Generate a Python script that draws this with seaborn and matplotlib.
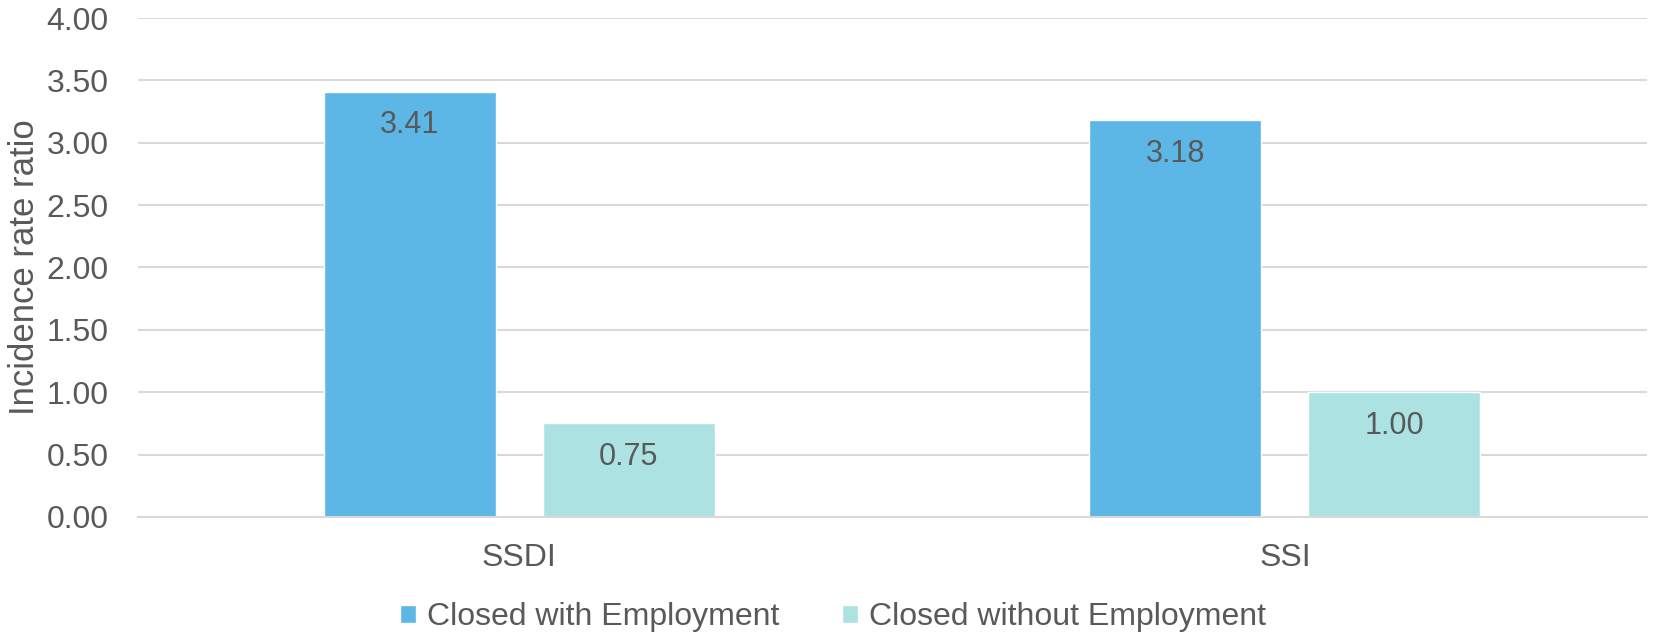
import pandas as pd
import matplotlib
matplotlib.use("Agg")
import matplotlib.pyplot as plt
import seaborn as sns

# data
categories = ["SSDI", "SSI"]
series = ["Closed with Employment", "Closed without Employment"]
with_employment = [3.41, 3.18]
without_employment = [0.75, 1.00]
yticks = [0.0, 0.5, 1.0, 1.5, 2.0, 2.5, 3.0, 3.5, 4.0]
colors = ["#5DB7E6", "#ACE2E1"]

df = pd.DataFrame({
    "program": categories * 2,
    "status": [series[0]] * 2 + [series[1]] * 2,
    "ratio": with_employment + without_employment,
})

sns.set_style("white")
plt.rcParams["font.family"] = ["Liberation Sans", "DejaVu Sans"]
text_col = "#595959"

fig = plt.figure(figsize=(16.66, 6.32), dpi=100)
ax = fig.add_axes([0.0828, 0.182, 0.9058, 0.7895])

sns.barplot(data=df, x="program", y="ratio", hue="status", palette=colors,
            width=0.572, gap=0.2135, saturation=1, ax=ax)

# value labels inside the top of each bar
for p in ax.patches:
    h = p.get_height()
    if h == 0:
        continue
    ax.annotate(f"{h:.2f}", (p.get_x() + p.get_width() / 2, h),
                xytext=(0, -24), textcoords="offset points",
                ha="center", va="center", fontsize=22, color=text_col)

ax.set_ylim(0, 4.0)
ax.set_yticks(yticks)
ax.set_yticklabels([f"{t:.2f}" for t in yticks])
ax.set_xlim(-0.498, 1.473)
ax.yaxis.grid(True, color="#D9D9D9", linewidth=1.5)
ax.set_axisbelow(True)
for s in ["top", "right", "left"]:
    ax.spines[s].set_visible(False)
ax.spines["bottom"].set_color("#D9D9D9")
ax.spines["bottom"].set_linewidth(1.5)
ax.tick_params(axis="y", length=0, pad=21, labelsize=23, labelcolor=text_col)
ax.tick_params(axis="x", length=0, pad=19, labelsize=23, labelcolor=text_col)
ax.set_xlabel("")
ax.set_ylabel("Incidence rate ratio", fontsize=25, color=text_col, labelpad=4)

handles, labels = ax.get_legend_handles_labels()
ax.legend_.remove()
fig.legend(handles, labels, loc="center", bbox_to_anchor=(0.5, 0.023),
           ncol=2, frameon=False, fontsize=23, labelcolor=text_col,
           handlelength=0.5, handleheight=0.5, handletextpad=0.35,
           columnspacing=1.95)

fig.savefig("out.png", dpi=100)
